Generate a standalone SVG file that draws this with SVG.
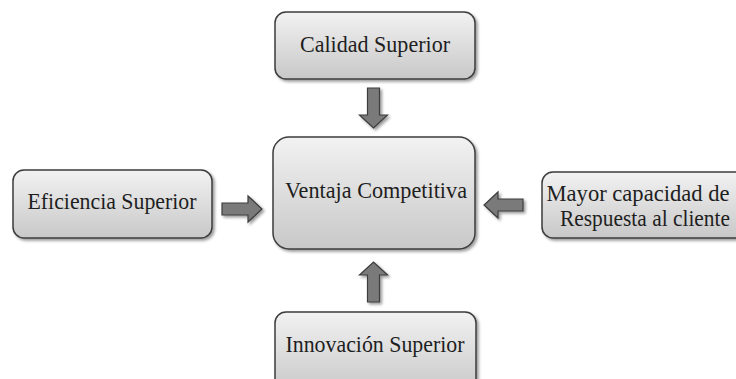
<svg xmlns="http://www.w3.org/2000/svg" width="736" height="379" viewBox="0 0 736 379">
<defs>
<linearGradient id="g" x1="0" y1="0" x2="0" y2="1">
<stop offset="0" stop-color="#f2f2f2"/>
<stop offset="1" stop-color="#c8c8c8"/>
</linearGradient>
<filter id="sh" x="-10%" y="-10%" width="125%" height="130%">
<feGaussianBlur in="SourceAlpha" stdDeviation="1.5"/>
<feOffset dx="1.5" dy="2" result="b"/>
<feComponentTransfer><feFuncA type="linear" slope="0.4"/></feComponentTransfer>
<feMerge><feMergeNode/><feMergeNode in="SourceGraphic"/></feMerge>
</filter>
</defs>
<style>
.box{fill:url(#g);stroke:#3c3c3c;stroke-width:1.5;filter:url(#sh)}
.t{font-family:"Liberation Serif","Times New Roman",serif;font-size:23.5px;fill:#1e1e1e;text-anchor:middle}
.arr{fill:#7a7a7a;stroke:#3c3c3c;stroke-width:1.2;filter:url(#sh)}
</style>
<rect width="736" height="379" fill="#ffffff"/>
<g id="calidad">
<rect class="box" x="275" y="12" width="200" height="67" rx="11"/>
<text class="t" x="375" y="52" textLength="150" lengthAdjust="spacingAndGlyphs">Calidad Superior</text>
</g>
<g id="ventaja">
<rect class="box" x="273" y="137" width="202" height="112" rx="16"/>
<text class="t" x="376" y="198" textLength="182" lengthAdjust="spacingAndGlyphs">Ventaja Competitiva</text>
</g>
<g id="eficiencia">
<rect class="box" x="13" y="170" width="199" height="68" rx="11"/>
<text class="t" x="112" y="209" textLength="169" lengthAdjust="spacingAndGlyphs">Eficiencia Superior</text>
</g>
<g id="respuesta">
<rect class="box" x="542" y="172" width="205" height="66" rx="11"/>
<text class="t" x="638" y="201" textLength="183" lengthAdjust="spacingAndGlyphs">Mayor capacidad de</text>
<text class="t" x="645" y="226" textLength="170" lengthAdjust="spacingAndGlyphs">Respuesta al cliente</text>
</g>
<g id="innovacion">
<rect class="box" x="275" y="312" width="201" height="80" rx="11"/>
<text class="t" x="375" y="352" textLength="179" lengthAdjust="spacingAndGlyphs">Innovación Superior</text>
</g>
<g id="connectors">
<polygon class="arr" points="367.5,88 379.5,88 379.5,115 387.5,115 373.5,128 359.5,115 367.5,115"/>
<polygon class="arr" points="367.5,302 379.5,302 379.5,275 387.5,275 373.5,262 359.5,275 367.5,275"/>
<polygon class="arr" points="222,203 248,203 248,196 262,209 248,222 248,215 222,215"/>
<polygon class="arr" points="523,199 498,199 498,192 484,205 498,218 498,211 523,211"/>
</g>
</svg>
